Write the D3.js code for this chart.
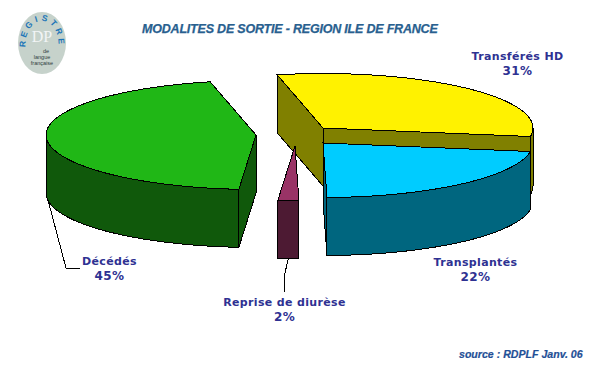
<!DOCTYPE html>
<html><head><meta charset="utf-8">
<style>html,body{margin:0;padding:0;background:#fff}svg{display:block}</style>
<script src="https://cdn.jsdelivr.net/npm/d3@7"></script></head>
<body><script>
const categories = ["Transférés HD","Transplantés","Reprise de diurèse","Décédés"];
const values = [31, 22.2, 1.6, 45.2];
const topColors = ["#fff200","#00ccff","#993366","#20b716"];
const sideColors = ["#808000","#00667f","#4d1a33","#10590b"];
const W=610,H=372, RX=210, RY=54.5, DEPTH=58;
const centers=[[323,128],[323,143],[295,146],[256,135]];
const svg=d3.select("body").append("svg").attr("width",W).attr("height",H);
const deg=Math.PI/180;
const pie=d3.pie().sort(null).startAngle(-12.6*deg).endAngle(347.4*deg);
const arcs=pie(values);
const line=d3.line();
const pt=(c,t,dz=0)=>[c[0]+RX*Math.sin(t), c[1]-RY*Math.cos(t)+dz];
const samples=(a,b)=>d3.range(0,41).map(i=>a+(b-a)*i/40);
const chart=svg.append("g").attr("stroke","#000").attr("stroke-width",1).attr("stroke-linejoin","miter").attr("shape-rendering","crispEdges");
arcs.forEach((d,i)=>{
  const c=centers[i], g=chart.append("g");
  const faces=[];
  if(Math.sin(d.startAngle)<0) faces.push(d.startAngle);
  if(Math.sin(d.endAngle)>0) faces.push(d.endAngle);
  faces.forEach(t=>{
    g.append("path").attr("fill",sideColors[i])
     .attr("d",line([c,pt(c,t),pt(c,t,DEPTH),[c[0],c[1]+DEPTH]])+"Z");
  });
  const a=Math.max(d.startAngle,Math.PI/2), b=Math.min(d.endAngle,1.5*Math.PI);
  if(b>a){
    const s=samples(a,b);
    g.append("path").attr("fill",sideColors[i])
     .attr("d",line([...s.map(t=>pt(c,t)),...s.slice().reverse().map(t=>pt(c,t,DEPTH))])+"Z");
  }
  g.append("path").attr("fill",topColors[i])
   .attr("d",line([c,...samples(d.startAngle,d.endAngle).map(t=>pt(c,t))])+"Z");
});
// leader lines
const leaders=svg.append("g").attr("fill","none").attr("stroke","#000").attr("stroke-width",1).attr("shape-rendering","crispEdges");
leaders.append("path").attr("d",line([[48,200],[66,268],[80,268]]));
leaders.append("path").attr("d",line([[288.5,258],[284.5,275],[284.5,292]]));
// labels
const labelPos=[[517.5,60],[475.5,266],[284.5,306],[109.5,265]];
const labels=svg.append("g").attr("font-family","'DejaVu Sans',Verdana,sans-serif")
  .attr("font-size",11).attr("font-weight","bold").attr("fill","#2e3192").attr("text-anchor","middle")
  .style("letter-spacing","0.35px");
categories.forEach((n,i)=>{
  labels.append("text").attr("x",labelPos[i][0]).attr("y",labelPos[i][1]).text(n);
  labels.append("text").attr("x",labelPos[i][0]).attr("y",labelPos[i][1]+15).attr("font-size",12).text(Math.round(values[i])+"%");
});
// title & source
svg.append("text").attr("x",142).attr("y",33).attr("font-family","'Liberation Sans',Arial,sans-serif")
  .attr("font-size",12.5).attr("font-weight","bold").attr("font-style","italic").attr("fill","#28608f")
  .attr("stroke","#28608f").attr("stroke-width",0.25).style("letter-spacing","-0.2px")
  .text("MODALITES DE SORTIE - REGION ILE DE FRANCE");
svg.append("text").attr("x",459).attr("y",357.5).attr("font-family","'Liberation Sans',Arial,sans-serif")
  .attr("font-size",10.6).attr("font-weight","bold").attr("font-style","italic").attr("fill","#1f4f96")
  .attr("stroke","#1f4f96").attr("stroke-width",0.2)
  .text("source : RDPLF Janv. 06");
// logo
const logo=svg.append("g");
logo.append("ellipse").attr("cx",42).attr("cy",43).attr("rx",24).attr("ry",31).attr("fill","#c6d2cb");
const defs=svg.append("defs");
defs.append("path").attr("id","logoArc").attr("d",line(d3.range(0,41).map(i=>{
  const t=(-92+184*i/40)*deg; return [42+16.5*Math.sin(t),44-23*Math.cos(t)];
})));
logo.append("text").attr("font-family","'Liberation Sans',Arial,sans-serif").attr("font-size",8.5).attr("font-weight","bold").attr("fill","#1c75b8")
  .append("textPath").attr("href","#logoArc").attr("startOffset","50%").attr("text-anchor","middle")
  .style("letter-spacing","3.2px").text("REGISTRE");
logo.append("text").attr("x",42).attr("y",42).attr("text-anchor","middle").attr("font-family","'Liberation Serif',serif")
  .attr("font-size",16).attr("fill","#f2f5f6").text("DP");
[["de",46,53],["langue",42,59],["française",42,65]].forEach(([t,x,y])=>{
  logo.append("text").attr("x",x).attr("y",y).attr("text-anchor","middle").attr("font-family","'Liberation Sans',Arial,sans-serif")
   .attr("font-size",5.5).attr("fill","#2f3d3d").text(t);
});
</script></body></html>
